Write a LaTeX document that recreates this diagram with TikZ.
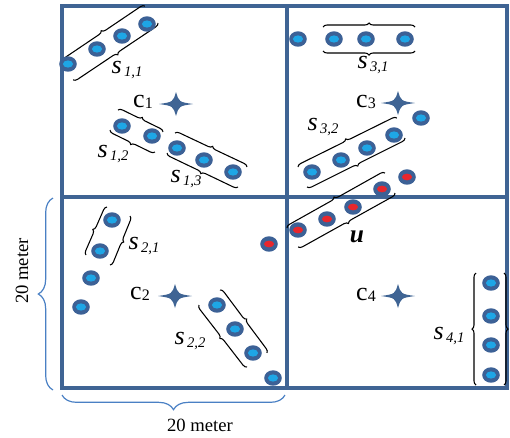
\documentclass[tikz,border=0pt]{standalone}
\usepackage{fontspec}
\setmainfont{Liberation Serif}
\usetikzlibrary{decorations.pathreplacing}
\definecolor{framec}{HTML}{3F6494}
\definecolor{dotout}{HTML}{3C6196}
\definecolor{dotin}{HTML}{1EA6E6}
\definecolor{dotred}{HTML}{E8262C}
\definecolor{scalec}{HTML}{4A80C4}
\newcommand\mycl[1]{{\fontsize{19.5}{19.5}\selectfont c}\raisebox{-1pt}{\fontsize{12}{12}\selectfont #1}}
\newcommand\mysl[1]{{\fontsize{19.5}{19.5}\selectfont\itshape s}\,\raisebox{-2pt}{\fontsize{11}{11}\selectfont\itshape #1}}
\tikzset{
  bluedot/.pic={\fill[dotout] (0,0) ellipse [x radius=6.6pt, y radius=5.8pt];
                \fill[dotin] (0,0) ellipse [x radius=3.8pt, y radius=2.7pt];},
  reddot/.pic={\fill[dotout] (0,0) ellipse [x radius=6.6pt, y radius=5.8pt];
               \fill[dotred] (0,0) ellipse [x radius=3.8pt, y radius=2.5pt];},
  starfour/.pic={\fill[framec] (17,0) .. controls (3,2) .. (0,12) .. controls (-3,2) .. (-17,0)
                 .. controls (-3,-2) .. (0,-12) .. controls (3,-2) .. (17,0) -- cycle;},
  grpbrace/.style={draw=black, line width=0.8pt, decorate, decoration={brace, amplitude=3pt}},
  scalebrace/.style={draw=scalec, line width=0.9pt, decorate, decoration={brace, amplitude=11pt}},
  lab/.style={inner sep=0pt, anchor=center},
  gridline/.style={draw=framec, line width=3.6pt}
}
\begin{document}
\begin{tikzpicture}[x=0.75pt, y=-0.75pt]
\useasboundingbox (0,0) rectangle (510,437);
% frame
\draw[gridline] (62,6) rectangle (507,388);
\draw[gridline] (287,6) -- (287,388);
\draw[gridline] (62,197) -- (507,197);
% scale braces
\draw[scalebrace] (53,390) -- (53,198);
\draw[scalebrace] (285,395) -- (62,395);
\node[lab, rotate=90, font=\fontsize{14}{14}\selectfont] (hlab) at (22,271) {20 meter};
\node[lab, font=\fontsize{14}{14}\selectfont] (wlab) at (200,425) {20 meter};
% stars and centres
\pic at (176,104) {starfour};
\pic at (175,296) {starfour};
\pic at (398,103) {starfour};
\pic at (398,296) {starfour};
\node[lab] (c1) at (143,102) {\mycl{1}};
\node[lab] (c2) at (140,294) {\mycl{2}};
\node[lab] (c3) at (366,102) {\mycl{3}};
\node[lab] (c4) at (366,295) {\mycl{4}};
% group braces
\draw[grpbrace] (62,62) -- (145,6);
\draw[grpbrace] (158,23) -- (73,80);
\draw[grpbrace] (118,110) -- (163,132);
\draw[grpbrace] (155,152) -- (110,130);
\draw[grpbrace] (175,133) -- (247,167);
\draw[grpbrace] (238,187) -- (167,153);
\draw[grpbrace] (323,27) -- (415,27);
\draw[grpbrace] (415,51) -- (323,51);
\draw[grpbrace] (298,167) -- (397,118);
\draw[grpbrace] (405,138) -- (307,187);
\draw[grpbrace] (287,228) -- (385,173);
\draw[grpbrace] (395,193) -- (298,247);
\draw[grpbrace] (86,255) -- (107,207);
\draw[grpbrace] (130,216) -- (110,265);
\draw[grpbrace] (247,367) -- (199,305);
\draw[grpbrace] (220,290) -- (267,353);
\draw[grpbrace] (476,385) -- (476,273);
\draw[grpbrace] (504,273) -- (504,385);
% dots
\foreach \p in {(68,64),(97,49),(122,36),(147,24),(122,126),(152,136),(177,148),(204,160),(233,172),
  (298,39),(334,39),(366,39),(405,39),(421,118),(312,172),(341,160),(367,148),(394,135),
  (112,220),(100,251),(91,278),(81,307),(217,305),(235,329),(253,353),(273,378),
  (491,283),(491,316),(491,345),(491,375)}
  \pic at \p {bluedot};
\foreach \p in {(298,230),(327,219),(353,207),(382,189),(407,177),(269,244)}
  \pic at \p {reddot};
% labels
\node[lab] (s11) at (127,70) {\mysl{1,1}};
\node[lab] (s12) at (113,154) {\mysl{1,2}};
\node[lab] (s13) at (186,179) {\mysl{1,3}};
\node[lab] (s31) at (373,65) {\mysl{3,1}};
\node[lab] (s32) at (323,127) {\mysl{3,2}};
\node[lab] (s21) at (144,246) {\mysl{2,1}};
\node[lab] (s22) at (190,341) {\mysl{2,2}};
\node[lab] (s41) at (449,336) {\mysl{4,1}};
\node[lab] (ulab) at (357,237) {\fontsize{19}{19}\selectfont\bfseries\itshape u};
\end{tikzpicture}
\end{document}
